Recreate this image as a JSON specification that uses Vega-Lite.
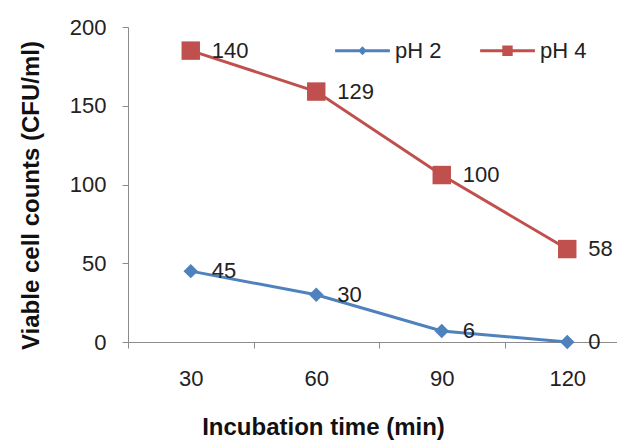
{
  "$schema": "https://vega.github.io/schema/vega-lite/v6.json",
  "autosize": "none",
  "width": 489,
  "height": 315,
  "padding": {"left": 128, "top": 27, "right": 0, "bottom": 98},
  "background": "white",
  "config": {
    "view": {"stroke": null},
    "font": "Liberation Sans",
    "axis": {"grid": false, "domainColor": "#8c8c8c", "tickColor": "#8c8c8c", "labelColor": "#222", "titleColor": "#111", "labelFont": "Liberation Sans", "titleFont": "Liberation Sans", "labelFontSize": 22, "titleFontSize": 24, "titleFontWeight": "bold"}
  },
  "data": {
    "values": [
      {"time": 30, "series": "pH 2", "value": 45, "label": "45"},
      {"time": 60, "series": "pH 2", "value": 30, "label": "30"},
      {"time": 90, "series": "pH 2", "value": 7, "label": "6"},
      {"time": 120, "series": "pH 2", "value": 0, "label": "0"},
      {"time": 30, "series": "pH 4", "value": 185, "label": "140"},
      {"time": 60, "series": "pH 4", "value": 159, "label": "129"},
      {"time": 90, "series": "pH 4", "value": 106, "label": "100"},
      {"time": 120, "series": "pH 4", "value": 59, "label": "58"}
    ]
  },
  "encoding": {
    "x": {"field": "time", "type": "ordinal", "scale": {"type": "band", "paddingInner": 0, "paddingOuter": 0, "range": [0, 502]},
      "axis": {"title": "Incubation time (min)", "labelAngle": 0, "tickBand": "extent", "tickSize": 6, "labelPadding": 20, "titlePadding": 26, "titleX": 195}},
    "y": {"field": "value", "type": "quantitative", "scale": {"domain": [0, 200], "nice": false},
      "axis": {"values": [0, 50, 100, 150, 200], "title": "Viable cell counts  (CFU/ml)", "tickSize": 6, "labelPadding": 16, "titlePadding": 26, "titleY": 168}},
    "color": {"field": "series", "type": "nominal", "scale": {"domain": ["pH 2", "pH 4"], "range": ["#4F81BD", "#C0504D"]},
      "legend": {"orient": "none", "legendX": 207, "legendY": -4, "direction": "horizontal", "title": null,
        "symbolSize": 3000, "symbolStrokeWidth": 0, "labelFontSize": 22, "labelFont": "Liberation Sans", "labelColor": "#222", "labelOffset": 5, "columnPadding": 38,
        "encode": {"symbols": {"update": {
          "shape": {"signal": "datum.value === 'pH 2' ? 'M-1,-0.055H1V0.055H-1Z M0,-0.16L0.16,0L0,0.16L-0.16,0Z' : 'M-1,-0.055H1V0.055H-1Z M-0.19,-0.19H0.19V0.19H-0.19Z'"},
          "fill": {"scale": "color", "field": "value"},
          "stroke": {"value": "transparent"},
          "strokeWidth": {"value": 0}
        }}}}}
  },
  "layer": [
    {"mark": {"type": "line", "strokeWidth": 3}},
    {"transform": [{"filter": "datum.series === 'pH 2'"}],
      "mark": {"type": "point", "filled": true, "opacity": 1, "shape": "diamond", "size": 210}},
    {"transform": [{"filter": "datum.series === 'pH 4'"}],
      "mark": {"type": "point", "filled": true, "opacity": 1, "shape": "square", "size": 340}},
    {"mark": {"type": "text", "align": "left", "baseline": "middle", "dx": 21, "fontSize": 22, "font": "Liberation Sans"},
      "encoding": {"text": {"field": "label"}, "color": {"value": "#222"}}}
  ]
}
